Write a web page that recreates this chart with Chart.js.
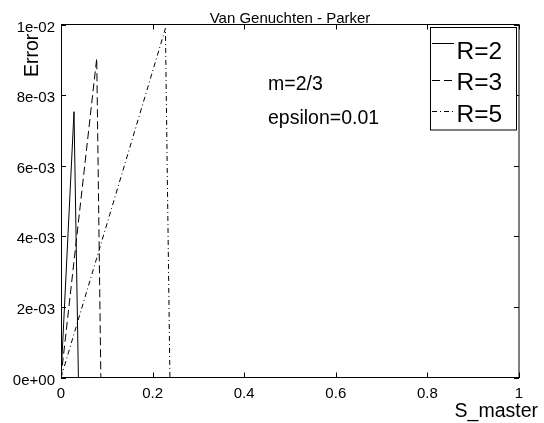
<!DOCTYPE html>
<html>
<head>
<meta charset="utf-8">
<title>Van Genuchten - Parker</title>
<script src="https://cdn.jsdelivr.net/npm/chart.js@4/dist/chart.umd.min.js"></script>
<style>
  html, body { margin: 0; padding: 0; background: #fff; }
  #wrap { width: 544px; height: 423px; }
</style>
</head>
<body>
<div id="wrap"><canvas id="chart"></canvas></div>
<script>
// data
const seriesNames = ['R=2', 'R=3', 'R=5'];
const r2X = [0, 0.0284, 0.038];
const r2Y = [0, 0.00753, 0];
const r3X = [0, 0.078, 0.087];
const r3Y = [0, 0.00904, 0];
const r5X = [0, 0.228, 0.2378];
const r5Y = [0, 0.00989, 0];
const xTicks = [0, 0.2, 0.4, 0.6, 0.8, 1];
const yTicks = [0, 0.002, 0.004, 0.006, 0.008, 0.01];
const notes = ['m=2/3', 'epsilon=0.01'];

const FONT = "'Liberation Sans', Arial, sans-serif";

function points(xs, ys) {
    return xs.map((x, i) => ({ x: x, y: ys[i] }));
}

const dashes = [[], [8, 4], [5, 3, 1, 3]];

const datasets = [[r2X, r2Y], [r3X, r3Y], [r5X, r5Y]].map((s, i) => ({
    label: seriesNames[i],
    data: points(s[0], s[1]),
    borderColor: '#000',
    borderWidth: 1,
    borderDash: dashes[i],
    pointRadius: 0,
    showLine: true,
    fill: false
}));

// frame, inner ticks, titles, notes and legend box
const extras = {
    id: 'extras',
    afterDraw(chart) {
        const ctx = chart.ctx;
        const a = chart.chartArea;
        const xs = chart.scales.x, ys = chart.scales.y;
        ctx.save();
        ctx.strokeStyle = '#000';
        ctx.lineWidth = 1;
        ctx.setLineDash([]);
        // top and right border
        ctx.beginPath();
        ctx.moveTo(a.left, a.top);
        ctx.lineTo(a.right, a.top);
        ctx.lineTo(a.right, a.bottom);
        ctx.stroke();
        // inner ticks
        ctx.beginPath();
        xTicks.forEach(v => {
            const px = Math.round(xs.getPixelForValue(v)) + 0.5;
            ctx.moveTo(px, a.bottom); ctx.lineTo(px, a.bottom - 5);
            ctx.moveTo(px, a.top); ctx.lineTo(px, a.top + 5);
        });
        yTicks.forEach(v => {
            const py = Math.round(ys.getPixelForValue(v)) + 0.5;
            ctx.moveTo(a.left, py); ctx.lineTo(a.left + 5, py);
            ctx.moveTo(a.right, py); ctx.lineTo(a.right - 5, py);
        });
        ctx.stroke();

        ctx.fillStyle = '#000';
        // title
        ctx.font = '15px ' + FONT;
        ctx.textAlign = 'center';
        ctx.textBaseline = 'alphabetic';
        ctx.fillText('Van Genuchten - Parker', (a.left + a.right) / 2, 23);

        // x axis title
        ctx.font = '19.5px ' + FONT;
        ctx.textAlign = 'right';
        ctx.fillText('S_master', 538, 417);

        // y axis title
        ctx.save();
        ctx.translate(37.5, 77);
        ctx.rotate(-Math.PI / 2);
        ctx.textAlign = 'left';
        ctx.fillText('Error', 0, 0);
        ctx.restore();

        // notes
        ctx.textAlign = 'left';
        ctx.fillText(notes[0], 268, 90);
        ctx.fillText(notes[1], 268, 123.5);

        // legend
        ctx.fillStyle = '#fff';
        ctx.fillRect(430.5, 27.5, 86, 102.5);
        ctx.strokeRect(430.5, 27.5, 86, 102.5);
        const lineY = [43.5, 80.5, 111.5];
        const textY = [58.5, 90, 121.5];
        ctx.font = '24.5px ' + FONT;
        ctx.fillStyle = '#000';
        chart.data.datasets.forEach((ds, i) => {
            ctx.setLineDash(ds.borderDash);
            ctx.beginPath();
            ctx.moveTo(432, lineY[i]);
            ctx.lineTo(454, lineY[i]);
            ctx.stroke();
            ctx.setLineDash([]);
            ctx.fillText(ds.label, 456.5, textY[i]);
        });
        ctx.restore();
    }
};

new Chart(document.getElementById('chart'), {
    type: 'scatter',
    data: { datasets: datasets },
    options: {
        responsive: true,
        maintainAspectRatio: false,
        animation: false,
        layout: { padding: { top: 24.5, right: 25, left: 0, bottom: 0 } },
        plugins: {
            legend: { display: false },
            title: { display: false },
            tooltip: { enabled: false }
        },
        scales: {
            x: {
                type: 'linear',
                min: 0,
                max: 1,
                afterFit: s => { s.height = 45.5; },
                afterBuildTicks: s => { s.ticks = xTicks.map(v => ({ value: v })); },
                grid: { display: false, drawTicks: false },
                border: { display: true, color: '#000', width: 1 },
                ticks: {
                    color: '#000',
                    font: { family: FONT, size: 15 },
                    padding: 7,
                    maxRotation: 0,
                    callback: v => (v === 0 || v === 1) ? String(v) : v.toFixed(1)
                }
            },
            y: {
                type: 'linear',
                min: 0,
                max: 0.01,
                afterFit: s => { s.width = 61; },
                afterBuildTicks: s => { s.ticks = yTicks.map(v => ({ value: v })); },
                grid: { display: false, drawTicks: false },
                border: { display: true, color: '#000', width: 1 },
                ticks: {
                    color: '#000',
                    font: { family: FONT, size: 15 },
                    padding: 6,
                    labelOffset: 3,
                    callback: v => {
                        const s = Number(v).toExponential(0);
                        const m = s.match(/^(-?\d)e([+-])(\d+)$/);
                        return m[1] + 'e' + m[2] + m[3].padStart(2, '0');
                    }
                }
            }
        }
    },
    plugins: [extras]
});
</script>
</body>
</html>
